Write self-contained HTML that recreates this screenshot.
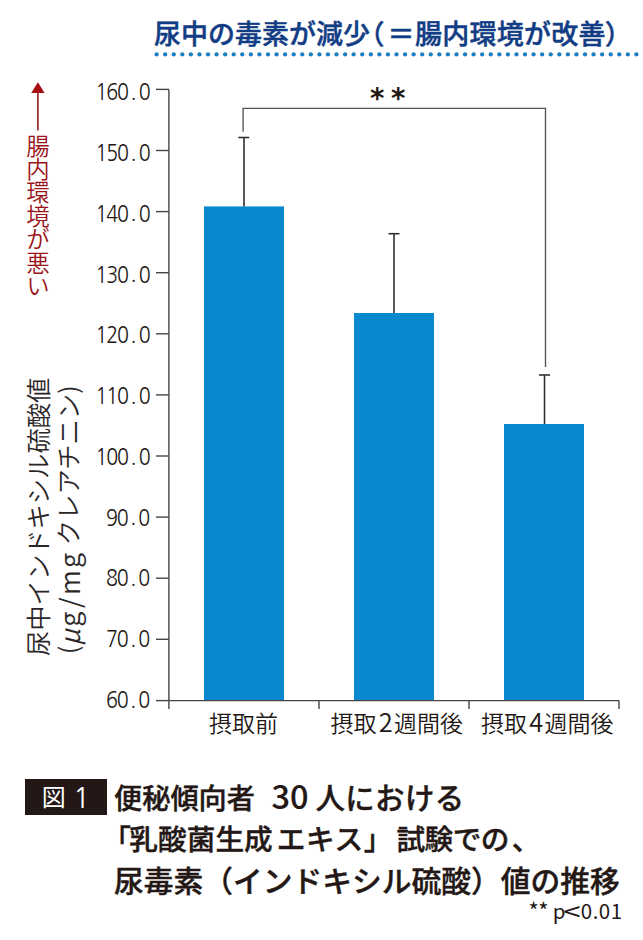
<!DOCTYPE html>
<html lang="ja">
<head>
<meta charset="utf-8">
<title>図1 尿毒素の推移</title>
<style>
html,body{margin:0;padding:0;background:#fff;}
body{width:643px;height:940px;position:relative;overflow:hidden;
  font-family:"Liberation Sans","Noto Sans CJK JP",sans-serif;}
.abs{position:absolute;white-space:nowrap;}
#title{left:154px;top:15px;font-size:27px;line-height:36px;font-weight:500;color:#123d84;-webkit-text-stroke:0.45px #123d84;
  font-family:"Noto Sans CJK JP",sans-serif;}
#title .p{font-feature-settings:"palt";}
.ylab{position:absolute;right:493.5px;height:22px;line-height:22px;font-size:22.4px;color:#231815;
  font-family:"NanumGothic",sans-serif;transform:scaleX(0.88);transform-origin:right center;white-space:nowrap;}
.ylab b{display:inline-block;width:12.3px;text-align:center;font-weight:400;}
.ylab b.d{position:relative;top:-1.3px;left:0.3px;}
#redtxt{left:25.5px;top:134px;font-size:23.4px;line-height:23.4px;color:#9a1319;writing-mode:vertical-rl;
  font-family:"Noto Sans CJK JP DemiLight","Noto Sans CJK JP",sans-serif;font-weight:400;}
#ytitle{left:22.8px;top:656px;transform:rotate(-90deg);transform-origin:0 0;font-size:25.3px;line-height:29px;color:#2b2627;
  font-family:"Noto Sans CJK JP DemiLight","Noto Sans CJK JP",sans-serif;font-weight:400;}
#yt2{margin-left:2px;}
#yt2 .lat{letter-spacing:2.2px;font-size:27px;position:relative;top:1.5px;}
#yt2 i{font-style:italic;}
.xlab{position:absolute;top:707px;font-size:23px;line-height:30px;color:#231815;
  font-family:"Noto Sans CJK JP DemiLight","Noto Sans CJK JP",sans-serif;font-weight:400;}
.xlab i{font-style:normal;font-size:25.5px;line-height:20px;margin:0 1.2px 0 2.2px;}
#figbox{left:25px;top:779px;width:82px;height:36px;background:#231815;}
#fig1{left:41.8px;top:780px;font-size:24px;line-height:32px;color:#fff;font-family:"Noto Sans CJK JP",sans-serif;font-weight:400;}
#fig2{left:73px;top:780px;font-size:28.5px;line-height:36px;color:#fff;font-family:"NanumGothic",sans-serif;}
.cap{position:absolute;left:114px;font-size:28.5px;line-height:40px;color:#231815;font-weight:500;-webkit-text-stroke:0.4px #231815;
  font-family:"Noto Sans CJK JP",sans-serif;}
.cap .num{font-size:32.5px;font-weight:500;-webkit-text-stroke:0.15px #231815;letter-spacing:0px;margin:0 5px 0 16.5px;}
.cap .p{font-feature-settings:"palt";}
#cap1{font-size:28.2px;}
#cap1 .k{font-size:29.5px;margin-left:2px;letter-spacing:0.3px;}
#cap2{font-size:28.7px;}
#cap3{font-size:29.75px;}
#ast{left:370px;top:83px;font-size:27.5px;line-height:30px;color:#231815;font-family:"DejaVu Sans",sans-serif;font-weight:700;letter-spacing:6.5px;}
#pval .lt{font-size:25px;line-height:10px;display:inline-block;transform:scaleX(1.25);margin:0 2px 0 -0.5px;position:relative;top:1.8px;}
#pval{left:528.5px;top:895px;font-size:20.5px;line-height:28px;color:#231815;font-family:"Noto Sans CJK JP",sans-serif;font-weight:400;}
</style>
</head>
<body>
<div id="title" class="abs">尿中の毒素が減少<span class="p">（</span><span style="margin-left:4px;margin-right:0.5px">＝</span><span style="letter-spacing:0.25px">腸内環境が改善</span><span class="p">）</span></div>

<svg class="abs" style="left:0;top:0" width="643" height="940" viewBox="0 0 643 940">
  <g fill="#1b80c3"><circle cx="156.60" cy="54.4" r="2.15"/><circle cx="165.17" cy="54.4" r="2.15"/><circle cx="173.74" cy="54.4" r="2.15"/><circle cx="182.30" cy="54.4" r="2.15"/><circle cx="190.87" cy="54.4" r="2.15"/><circle cx="199.44" cy="54.4" r="2.15"/><circle cx="208.01" cy="54.4" r="2.15"/><circle cx="216.58" cy="54.4" r="2.15"/><circle cx="225.14" cy="54.4" r="2.15"/><circle cx="233.71" cy="54.4" r="2.15"/><circle cx="242.28" cy="54.4" r="2.15"/><circle cx="250.85" cy="54.4" r="2.15"/><circle cx="259.42" cy="54.4" r="2.15"/><circle cx="267.98" cy="54.4" r="2.15"/><circle cx="276.55" cy="54.4" r="2.15"/><circle cx="285.12" cy="54.4" r="2.15"/><circle cx="293.69" cy="54.4" r="2.15"/><circle cx="302.26" cy="54.4" r="2.15"/><circle cx="310.82" cy="54.4" r="2.15"/><circle cx="319.39" cy="54.4" r="2.15"/><circle cx="327.96" cy="54.4" r="2.15"/><circle cx="336.53" cy="54.4" r="2.15"/><circle cx="345.10" cy="54.4" r="2.15"/><circle cx="353.66" cy="54.4" r="2.15"/><circle cx="362.23" cy="54.4" r="2.15"/><circle cx="370.80" cy="54.4" r="2.15"/><circle cx="379.37" cy="54.4" r="2.15"/><circle cx="387.94" cy="54.4" r="2.15"/><circle cx="396.50" cy="54.4" r="2.15"/><circle cx="405.07" cy="54.4" r="2.15"/><circle cx="413.64" cy="54.4" r="2.15"/><circle cx="422.21" cy="54.4" r="2.15"/><circle cx="430.78" cy="54.4" r="2.15"/><circle cx="439.34" cy="54.4" r="2.15"/><circle cx="447.91" cy="54.4" r="2.15"/><circle cx="456.48" cy="54.4" r="2.15"/><circle cx="465.05" cy="54.4" r="2.15"/><circle cx="473.62" cy="54.4" r="2.15"/><circle cx="482.18" cy="54.4" r="2.15"/><circle cx="490.75" cy="54.4" r="2.15"/><circle cx="499.32" cy="54.4" r="2.15"/><circle cx="507.89" cy="54.4" r="2.15"/><circle cx="516.46" cy="54.4" r="2.15"/><circle cx="525.02" cy="54.4" r="2.15"/><circle cx="533.59" cy="54.4" r="2.15"/><circle cx="542.16" cy="54.4" r="2.15"/><circle cx="550.73" cy="54.4" r="2.15"/><circle cx="559.30" cy="54.4" r="2.15"/><circle cx="567.86" cy="54.4" r="2.15"/><circle cx="576.43" cy="54.4" r="2.15"/><circle cx="585.00" cy="54.4" r="2.15"/><circle cx="593.57" cy="54.4" r="2.15"/><circle cx="602.14" cy="54.4" r="2.15"/><circle cx="610.70" cy="54.4" r="2.15"/><circle cx="619.27" cy="54.4" r="2.15"/><circle cx="627.84" cy="54.4" r="2.15"/><circle cx="636.41" cy="54.4" r="2.15"/></g>
  <!-- red arrow -->
  <polygon points="37.9,82.3 31.2,92.9 44.6,92.9" fill="#a80d14"/>
  <line x1="37.9" y1="92" x2="37.9" y2="130.6" stroke="#9a1a22" stroke-width="1.6"/>
  <!-- bars -->
  <g fill="#0788cf">
    <rect x="204" y="206.4" width="80" height="494"/>
    <rect x="354" y="313" width="80" height="387.4"/>
    <rect x="504" y="424" width="80" height="276.4"/>
  </g>
  <!-- axes -->
  <g stroke="#4a4546" stroke-width="1.4" fill="none">
    <polyline points="168.9,89.4 168.9,700.6 619,700.6"/>
    <line x1="156" y1="89.4" x2="169" y2="89.4"/>
    <line x1="156" y1="150.5" x2="169" y2="150.5"/>
    <line x1="156" y1="211.6" x2="169" y2="211.6"/>
    <line x1="156" y1="272.7" x2="169" y2="272.7"/>
    <line x1="156" y1="333.8" x2="169" y2="333.8"/>
    <line x1="156" y1="394.9" x2="169" y2="394.9"/>
    <line x1="156" y1="456.0" x2="169" y2="456.0"/>
    <line x1="156" y1="517.1" x2="169" y2="517.1"/>
    <line x1="156" y1="578.2" x2="169" y2="578.2"/>
    <line x1="156" y1="639.3" x2="169" y2="639.3"/>
    <line x1="156" y1="700.6" x2="169" y2="700.6"/>
    <line x1="168.9" y1="700.6" x2="168.9" y2="709"/>
    <line x1="319" y1="700.6" x2="319" y2="709"/>
    <line x1="469" y1="700.6" x2="469" y2="709"/>
    <line x1="619" y1="700.6" x2="619" y2="709"/>
  </g>
  <!-- error bars -->
  <g stroke="#302b2c" stroke-width="1.55" fill="none">
    <line x1="244" y1="137.5" x2="244" y2="206.4"/>
    <line x1="238.3" y1="137.5" x2="249.2" y2="137.5"/>
    <line x1="394" y1="233.7" x2="394" y2="313"/>
    <line x1="388.5" y1="233.7" x2="399.5" y2="233.7"/>
    <line x1="544.5" y1="375" x2="544.5" y2="424"/>
    <line x1="539" y1="375" x2="550" y2="375"/>
  </g>
  <!-- significance bracket -->
  <polyline points="243.1,131.8 243.1,108.3 545.5,108.3 545.5,367" stroke="#55504f" stroke-width="1.35" fill="none"/>
</svg>
<div id="ast" class="abs">**</div>


<div class="ylab" style="top:81.1px"><b>1</b><b>6</b><b>0</b><b class="d">.</b><b>0</b></div>
<div class="ylab" style="top:141.9px"><b>1</b><b>5</b><b>0</b><b class="d">.</b><b>0</b></div>
<div class="ylab" style="top:202.7px"><b>1</b><b>4</b><b>0</b><b class="d">.</b><b>0</b></div>
<div class="ylab" style="top:263.5px"><b>1</b><b>3</b><b>0</b><b class="d">.</b><b>0</b></div>
<div class="ylab" style="top:324.3px"><b>1</b><b>2</b><b>0</b><b class="d">.</b><b>0</b></div>
<div class="ylab" style="top:385.0px"><b>1</b><b>1</b><b>0</b><b class="d">.</b><b>0</b></div>
<div class="ylab" style="top:445.8px"><b>1</b><b>0</b><b>0</b><b class="d">.</b><b>0</b></div>
<div class="ylab" style="top:506.6px"><b>9</b><b>0</b><b class="d">.</b><b>0</b></div>
<div class="ylab" style="top:567.4px"><b>8</b><b>0</b><b class="d">.</b><b>0</b></div>
<div class="ylab" style="top:628.2px"><b>7</b><b>0</b><b class="d">.</b><b>0</b></div>
<div class="ylab" style="top:689.0px"><b>6</b><b>0</b><b class="d">.</b><b>0</b></div>

<div id="redtxt" class="abs">腸内環境が悪い</div>

<div id="ytitle" class="abs">
  <div id="yt1">尿中インドキシル硫酸値</div>
  <div id="yt2"><span class="pp">(</span><span class="lat"><i>μ</i>g/mg</span> クレアチニン<span class="pp">)</span></div>
</div>

<div class="xlab" style="left:209px">摂取前</div>
<div class="xlab" style="left:330.5px">摂取<i>2</i>週間後</div>
<div class="xlab" style="left:481px">摂取<i>4</i>週間後</div>

<div id="figbox" class="abs"></div>
<div id="fig1" class="abs">図</div><div id="fig2" class="abs">1</div>
<div id="cap1" class="cap abs" style="top:774.5px">便秘傾向者<span class="num">30</span><span class="k">人における</span></div>
<div id="cap2" class="cap abs" style="top:818px;left:116px"><span class="p" style="margin-right:-1px">「</span>乳酸菌生成<span style="letter-spacing:0.6px;margin-left:4px">エキス</span>」<span style="margin-left:4px;letter-spacing:-0.6px">試験での</span><span style="margin-left:3px">、</span></div>
<div id="cap3" class="cap abs" style="top:859px">尿毒素（インドキシル硫酸）値の推移</div>
<div id="pval" class="abs"><span style="font-size:22px;letter-spacing:-0.5px">**</span> p<span class="lt">&lt;</span><span style="letter-spacing:0.5px">0.01</span></div>
</body>
</html>
